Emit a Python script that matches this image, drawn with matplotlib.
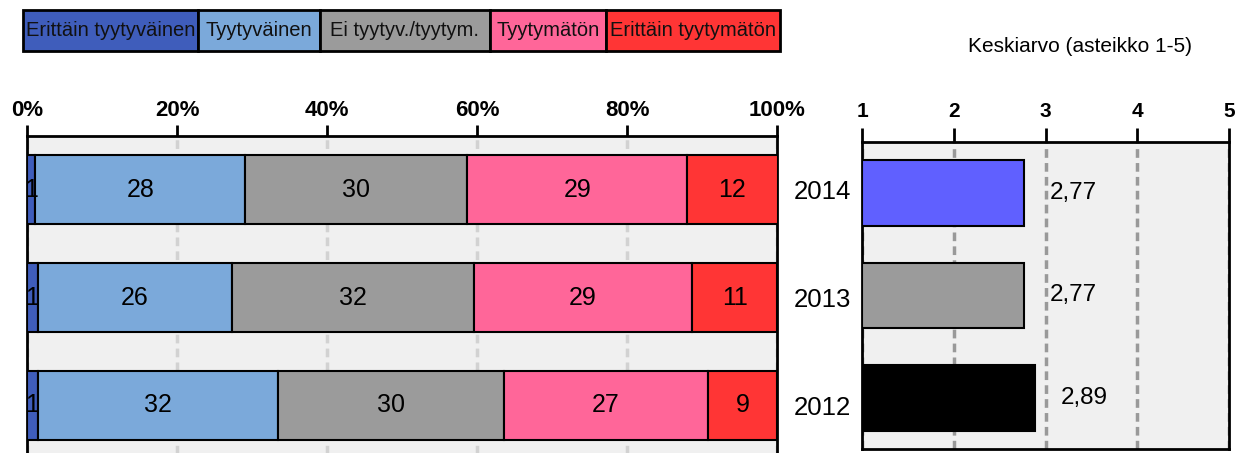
import numpy as np
import matplotlib.pyplot as plt
from matplotlib.patches import Rectangle

plt.rcParams['font.family'] = ['Liberation Sans', 'DejaVu Sans']

# data
years = ['2014', '2013', '2012']
categories = ['Erittäin tyytyväinen', 'Tyytyväinen', 'Ei tyytyv./tyytym.',
              'Tyytymätön', 'Erittäin tyytymätön']
shares = np.array([
    [1.1, 28.0, 29.6, 29.3, 12.1],
    [1.4, 25.9, 32.3, 29.1, 11.3],
    [1.4, 32.1, 30.1, 27.2, 9.2],
])
means = [2.77, 2.77, 2.89]

cat_colors = ['#3f5dbb', '#7ba9da', '#9b9b9b', '#ff6699', '#ff3535']
mean_colors = ['#6060ff', '#9b9b9b', '#000000']

W, H = 1243, 453
fig = plt.figure(figsize=(W / 100, H / 100), dpi=100)

# left: stacked percentages
ax = fig.add_axes([27 / W, 1 - 459 / H, 750 / W, 323 / H])
ax.set_facecolor('#f0f0f0')
y = np.arange(len(years))
left = np.zeros(len(years))
for j in range(len(categories)):
    vals = shares[:, j]
    ax.barh(y, vals, left=left, height=0.64, color=cat_colors[j],
            edgecolor='black', linewidth=1.5, zorder=3)
    for i, v in enumerate(vals):
        ax.text(left[i] + v / 2, y[i], f'{v:.0f}', ha='center', va='center',
                fontsize=18, zorder=4, clip_on=True)
    left += vals
ax.set_xlim(0, 100)
ax.set_ylim(2.5, -0.5)
ax.set_xticks(np.arange(0, 101, 20))
ax.set_xticklabels([f'{t}%' for t in range(0, 101, 20)], fontsize=16, fontweight='bold')
ax.xaxis.tick_top()
ax.tick_params(axis='x', length=8, width=2, pad=3)
ax.set_yticks(y)
ax.set_yticklabels(years, fontsize=18.5)
ax.yaxis.tick_right()
ax.tick_params(axis='y', length=0, pad=12)
ax.xaxis.grid(True, color='#d2d2d2', linewidth=2.5, linestyle=(0, (2.5, 1.5)), zorder=1)
for s in ax.spines.values():
    s.set_linewidth(2)

# right: means
ax2 = fig.add_axes([862 / W, 1 - 449 / H, 367 / W, 307 / H])
ax2.set_facecolor('#f0f0f0')
ax2.barh(y, np.array(means) - 1, left=1, height=0.64, color=mean_colors,
         edgecolor='black', linewidth=1.5, zorder=3)
for i, m in enumerate(means):
    ax2.text(m + 0.28, y[i], f'{m:.2f}'.replace('.', ','), ha='left', va='center',
             fontsize=17.5, zorder=4)
ax2.set_xlim(1, 5)
ax2.set_ylim(2.5, -0.5)
ax2.set_xticks([1, 2, 3, 4, 5])
ax2.set_xticklabels(['1', '2', '3', '4', '5'], fontsize=15, fontweight='bold')
ax2.xaxis.tick_top()
ax2.tick_params(axis='x', length=10, width=2, pad=5)
ax2.set_yticks([])
ax2.xaxis.grid(True, color='#999999', linewidth=2.5, linestyle=(0, (2.5, 1.5)), zorder=1)
for s in ax2.spines.values():
    s.set_linewidth(2)

fig.text(1080 / W, 1 - 47 / H, 'Keskiarvo (asteikko 1-5)', ha='center', va='center', fontsize=15)

# legend boxes across the top
edges = [23, 198, 320, 490, 606, 780]
for k, (lab, col) in enumerate(zip(categories, cat_colors)):
    x0, x1 = edges[k], edges[k + 1]
    fig.add_artist(Rectangle((x0 / W, 1 - 51 / H), (x1 - x0) / W, 41 / H,
                             transform=fig.transFigure, facecolor=col,
                             edgecolor='black', linewidth=2))
    fig.text((x0 + x1) / 2 / W, 1 - 31 / H, lab, ha='center', va='center',
             fontsize=14.5, color='#111111')

fig.savefig('out.png', dpi=100)
